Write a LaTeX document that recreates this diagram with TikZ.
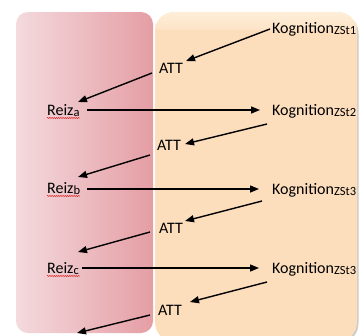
\documentclass[tikz,border=0pt]{standalone}
\usepackage{fontspec}
\setmainfont{Carlito}
\usetikzlibrary{arrows.meta,shadows,decorations.pathmorphing}
\definecolor{pinkL}{RGB}{244,218,222}
\definecolor{pinkR}{RGB}{228,158,164}
\definecolor{peach}{RGB}{252,221,188}
\definecolor{peachtop}{RGB}{254,238,216}
\definecolor{squiggle}{RGB}{220,40,40}
\newcommand\sbs[1]{\raisebox{-1.5pt}{\fontsize{12.5}{12.5}\selectfont #1}}
\tikzset{
  lbl/.style={inner sep=0pt, anchor=base west, font=\fontsize{16}{18}\selectfont},
  arr/.style={line width=1.4pt, -{Triangle[length=9pt,width=7pt]}},
  wavy/.style={squiggle, line width=0.5pt, decorate, decoration={snake, segment length=2.2pt, amplitude=0.6pt}}
}
\begin{document}
\begin{tikzpicture}[x=1pt,y=-1pt]
\useasboundingbox (0,0) rectangle (363,335);
% boxes
\path[rounded corners=12pt, left color=pinkL, right color=pinkR] (16,12) rectangle (153,333);
\path[rounded corners=20pt, fill=peach,
  drop shadow={shadow xshift=1.5pt, shadow yshift=-1.5pt, opacity=0.4, fill=gray}] (155,12) rectangle (357,342);
\path[rounded corners=19pt, top color=peachtop, bottom color=peach] (155,12) rectangle (357,40);
\path[fill=peach] (155,30) rectangle (357,42);

% nodes
\node[lbl] (kog1) at (272,33) {Kognition\sbs{ZSt1}};
\node[lbl] (att1) at (159,73) {ATT};
\node[lbl] (reiza) at (47,115) {Reiz\sbs{a}};
\node[lbl] (kog2) at (272,115) {Kognition\sbs{ZSt2}};
\node[lbl] (att2) at (157,150) {ATT};
\node[lbl] (reizb) at (47,193) {Reiz\sbs{b}};
\node[lbl] (kog3) at (272,194) {Kognition\sbs{ZSt3}};
\node[lbl] (att3) at (159,233) {ATT};
\node[lbl] (reizc) at (47,273) {Reiz\sbs{c}};
\node[lbl] (kog4) at (272,273) {Kognition\sbs{ZSt3}};
\node[lbl] (att4) at (158,315) {ATT};
\coordinate (bottomend) at (77,333);

% spell-check underlines
\foreach \r in {reiza,reizb,reizc}
  \draw[wavy] ([shift={(0,3)}]\r.base west) -- ([shift={(33,3)}]\r.base west);

% connectors
\draw[arr] ([shift={(-2,-4)}]kog1.base west) -- ([shift={(27,-12)}]att1.base west);
\draw[arr] ([shift={(-7,0)}]att1.base west) -- ([shift={(31,-13)}]reiza.base west);
\draw[arr] ([shift={(40,-5)}]reiza.base west) -- ([shift={(-12,-5)}]kog2.base west);
\draw[arr] ([shift={(-5,9)}]kog2.base west) -- ([shift={(28,-6)}]att2.base west);
\draw[arr] ([shift={(-7,5)}]att2.base west) -- ([shift={(31,-16)}]reizb.base west);
\draw[arr] ([shift={(40,-4)}]reizb.base west) -- ([shift={(-13,-5)}]kog3.base west);
\draw[arr] ([shift={(-10,7)}]kog3.base west) -- ([shift={(26,-12)}]att3.base west);
\draw[arr] ([shift={(-9,-1)}]att3.base west) -- ([shift={(31,-21)}]reizc.base west);
\draw[arr] ([shift={(35,-5)}]reizc.base west) -- ([shift={(-13,-5)}]kog4.base west);
\draw[arr] ([shift={(-5,9)}]kog4.base west) -- ([shift={(32,-13)}]att4.base west);
\draw[arr] ([shift={(-8,0)}]att4.base west) -- (bottomend);
\end{tikzpicture}
\end{document}
